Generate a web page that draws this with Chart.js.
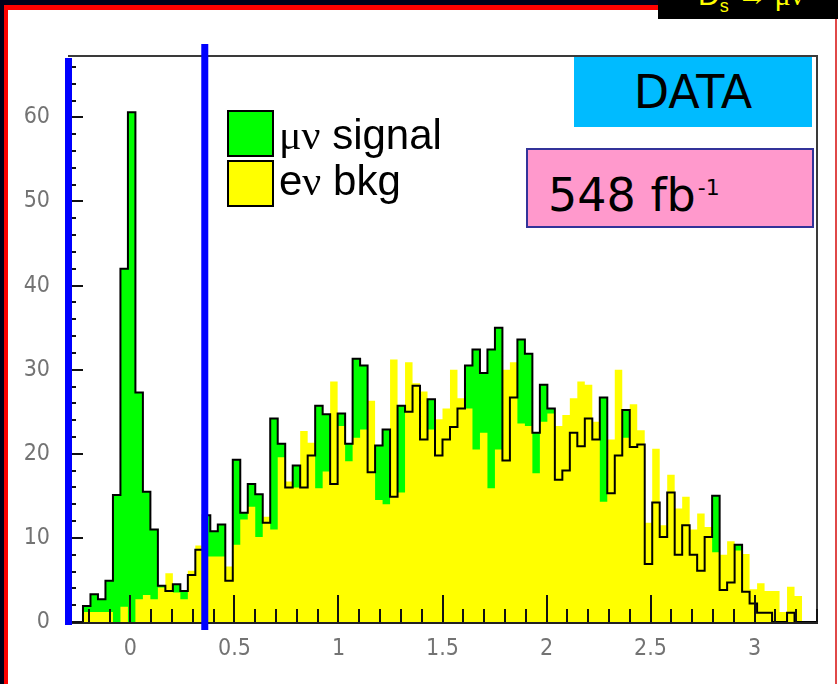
<!DOCTYPE html>
<html>
<head>
<meta charset="utf-8">
<script src="https://cdn.jsdelivr.net/npm/chart.js@4.4.1/dist/chart.umd.min.js"></script>
<style>
  body { margin: 0; background: #fff; }
  #wrap { position: relative; width: 838px; height: 684px; overflow: hidden; background: #fff; }
  #c { position: absolute; left: 0; top: 0; }
  .abs { position: absolute; }
  .legbox { position: absolute; left: 227px; width: 43px; height: 43px; border: 2px solid #000; }
  .legtxt { position: absolute; left: 279px; font: 42px "Liberation Sans", Arial, sans-serif; color: #000; line-height: 1; white-space: nowrap; }
  .greek { font-family: "Liberation Serif", "DejaVu Serif", serif; }
</style>
</head>
<body>
<div id="wrap">
  <canvas id="c" width="838" height="684"></canvas>

  <!-- slide border -->
  <div class="abs" style="left:0;top:0;width:838px;height:5px;background:#00001a"></div>
  <div class="abs" style="left:0;top:0;width:4px;height:684px;background:#00001a"></div>
  <div class="abs" style="left:4px;top:5px;width:660px;height:5px;background:#ff0000"></div>
  <div class="abs" style="left:4px;top:5px;width:4px;height:679px;background:#ff0000"></div>
  <div class="abs" style="left:835px;top:10px;width:2px;height:674px;background:#e04848"></div>
  <div class="abs" style="left:658px;top:0;width:180px;height:19px;background:#000;overflow:hidden">
    <div class="abs" style="left:40px;top:-22px;color:#ffff00;font:30px 'Liberation Sans',Arial,sans-serif;white-space:nowrap">D<sub style="font-size:18px">s</sub> <span class="greek">&rarr; &mu;&nu;</span></div>
  </div>

  <!-- legend -->
  <div class="legbox" style="top:110px;background:#00ff00"></div>
  <div class="legbox" style="top:160px;background:#ffff00"></div>
  <div class="legtxt" style="top:114px"><span class="greek">&mu;&nu;</span> signal</div>
  <div class="legtxt" style="top:160px">e<span class="greek">&nu;</span> bkg</div>

  <!-- labels -->
  <div class="abs" style="left:574px;top:57px;width:238px;height:70px;background:#00bbff;font:46px 'DejaVu Sans',Verdana,sans-serif;color:#000;text-align:center;line-height:70px">DATA</div>
  <div class="abs" style="left:526px;top:148px;width:284px;height:76px;background:#ff99cc;border:2px solid #333399;font:46px 'DejaVu Sans',Verdana,sans-serif;color:#000;line-height:76px;white-space:nowrap">
    <span style="margin-left:20px">548 fb</span><sup style="font-size:22px;vertical-align:16px;margin-left:2px">-1</sup>
  </div>
</div>

<script>
// histogram binning
const binLow = -0.3;
const binWidth = 0.036;

// mu-nu data (black outline, green where above bkg)
const muSignal = [
  0, 0, 1.9, 3.3, 2.7, 4.9, 15.1, 42.0, 60.6, 27.3,
  15.5, 11.0, 4.3, 3.7, 4.5, 3.7, 5.6, 8.6, 12.7, 10.8,
  11.6, 4.9, 19.3, 13.0, 16.4, 15.2, 11.8, 24.2, 21.2, 16.0,
  18.6, 16.0, 19.8, 25.7, 24.7, 16.4, 24.8, 21.2, 31.3, 30.5,
  17.8, 21.0, 22.9, 14.9, 25.7, 25.0, 28.1, 21.7, 26.5, 19.8,
  21.7, 23.2, 25.4, 30.5, 32.4, 29.6, 32.4, 35.0, 19.2, 26.7,
  33.6, 31.9, 22.5, 28.2, 25.4, 16.9, 18.0, 22.5, 20.9, 24.2,
  21.7, 26.7, 15.3, 19.8, 25.2, 20.8, 21.1, 6.9, 14.2, 10.1,
  15.4, 8.0, 11.5, 8.0, 6.1, 10.1, 15.0, 3.8, 4.7, 9.2,
  3.6, 2.2, 1.1, 1.1, 0, 0, 1.1, 0, 0, 0
];

// e-nu background (yellow)
const eBkg = [
  0, 0, 1.2, 1.2, 1.2, 1.2, 0, 1.8, 0, 2.7,
  3.2, 2.7, 4.1, 5.8, 3.5, 2.7, 6.1, 9.1, 7.8, 7.8,
  7.8, 6.6, 9.2, 12.2, 13.7, 10.1, 12.5, 11.0, 19.6, 16.7,
  16.0, 22.7, 21.3, 15.9, 17.9, 28.6, 23.3, 19.1, 21.9, 22.9,
  26.3, 14.5, 14.0, 31.2, 15.4, 30.9, 28.4, 27.4, 22.9, 24.1,
  25.4, 30.0, 26.6, 25.4, 20.5, 22.5, 15.9, 20.5, 30.0, 30.9,
  23.6, 23.3, 17.7, 23.8, 24.8, 23.3, 24.6, 26.6, 28.6, 28.2,
  23.8, 14.3, 21.7, 30.0, 21.9, 25.9, 22.8, 11.8, 20.6, 11.5,
  17.5, 13.5, 14.9, 11.0, 12.9, 11.3, 8.3, 8.0, 9.6, 8.5,
  8.1, 3.9, 4.6, 3.7, 3.7, 1.2, 4.2, 3.1, 0, 0
];

const xTickVals = [0, 0.5, 1, 1.5, 2, 2.5, 3];
const xTickLabels = ['0', '0.5', '1', '1.5', '2', '2.5', '3'];
const yTickVals = [0, 10, 20, 30, 40, 50, 60];
const yTickLabels = ['0', '10', '20', '30', '40', '50', '60'];

// cut lines (blue)
const cutLines = [-0.3, 0.355];

const xMin = -0.3, xMax = 3.3, yMax = 67.3;

// bin contents -> step points at lower bin edges (+ closing edge)
const toSteps = arr => arr.map((v, i) => ({ x: binLow + i * binWidth, y: v }))
  .concat([{ x: binLow + arr.length * binWidth, y: 0 }]);

const decor = {
  id: 'decor',
  afterDatasetsDraw(chart) {
    const { ctx, chartArea: a, scales: { x, y } } = chart;
    ctx.save();
    // frame
    ctx.strokeStyle = '#3a3a3a';
    ctx.lineWidth = 2;
    ctx.beginPath();
    ctx.moveTo(a.left, a.top);
    ctx.lineTo(a.right, a.top);
    ctx.lineTo(a.right, a.bottom);
    ctx.stroke();

    // inward ticks on x
    ctx.strokeStyle = '#111';
    ctx.lineWidth = 2;
    ctx.beginPath();
    for (let k = 0; k <= 36; k++) {
      const v = xMin + k * 0.1;
      const px = Math.round(x.getPixelForValue(v));
      const major = Math.abs(v * 2 - Math.round(v * 2)) < 1e-6;
      ctx.moveTo(px, a.bottom);
      ctx.lineTo(px, a.bottom - (major ? 27 : 13));
    }
    // inward ticks on y
    for (let v = 0; v <= 66; v += 2) {
      const py = Math.round(y.getPixelForValue(v));
      ctx.moveTo(a.left, py);
      ctx.lineTo(a.left + (v % 10 === 0 ? 15 : 8), py);
    }
    ctx.stroke();

    // blue cut lines
    ctx.fillStyle = '#0000ff';
    const l = x.getPixelForValue(cutLines[0]);
    ctx.fillRect(l - 3, 58, 7, 567);
    const r = x.getPixelForValue(cutLines[1]);
    ctx.fillRect(r - 3, 44, 7, 586);
    ctx.restore();
  }
};

new Chart(document.getElementById('c'), {
  type: 'line',
  data: {
    datasets: [
      {
        label: 'data outline',
        data: toSteps(muSignal),
        stepped: true,
        borderColor: '#000',
        borderWidth: 2,
        fill: false,
        pointRadius: 0,
        order: 0
      },
      {
        label: 'ev bkg',
        data: toSteps(eBkg),
        stepped: true,
        borderColor: 'rgba(0,0,0,0)',
        borderWidth: 0,
        backgroundColor: '#ffff00',
        fill: 'origin',
        pointRadius: 0,
        order: 1
      },
      {
        label: 'mu signal',
        data: toSteps(muSignal),
        stepped: true,
        borderColor: 'rgba(0,0,0,0)',
        borderWidth: 0,
        backgroundColor: '#00ff00',
        fill: 'origin',
        pointRadius: 0,
        order: 2
      }
    ]
  },
  options: {
    responsive: false,
    animation: false,
    layout: { padding: { left: 0, top: 56, right: 21, bottom: 0 } },
    plugins: { legend: { display: false }, tooltip: { enabled: false } },
    scales: {
      x: {
        type: 'linear',
        min: xMin,
        max: xMax,
        afterFit: s => { s.height = 62; },
        afterBuildTicks: s => { s.ticks = xTickVals.map(v => ({ value: v })); },
        grid: { display: false, drawTicks: false },
        border: { display: true, color: '#222', width: 3 },
        ticks: {
          autoSkip: false,
          maxRotation: 0,
          padding: 13,
          color: '#737373',
          font: { family: "'DejaVu Sans Condensed', 'DejaVu Sans', sans-serif", size: 23 },
          callback: (v, i) => xTickLabels[i]
        }
      },
      y: {
        min: 0,
        max: yMax,
        afterFit: s => { s.width = 68; },
        afterBuildTicks: s => { s.ticks = yTickVals.map(v => ({ value: v })); },
        grid: { display: false, drawTicks: false },
        border: { display: false },
        ticks: {
          autoSkip: false,
          padding: 18,
          color: '#737373',
          font: { family: "'DejaVu Sans Condensed', 'DejaVu Sans', sans-serif", size: 23 },
          callback: (v, i) => yTickLabels[i]
        }
      }
    }
  },
  plugins: [decor]
});
</script>
</body>
</html>
